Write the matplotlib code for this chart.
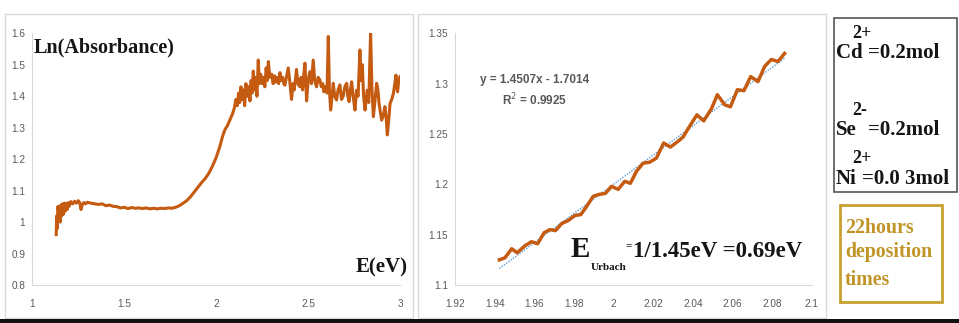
import matplotlib
matplotlib.use('Agg')
import matplotlib.pyplot as plt
from matplotlib.patches import Rectangle
from matplotlib.ticker import FuncFormatter
import numpy as np

# left panel: Ln(Absorbance) vs photon energy
energy_ev = [
	1.130, 1.133, 1.136, 1.140, 1.144, 1.148, 1.152, 1.156, 1.160, 1.165,
	1.170, 1.175, 1.180, 1.185, 1.190, 1.195, 1.200, 1.210, 1.220, 1.230,
	1.240, 1.250, 1.258, 1.265, 1.272, 1.280, 1.290, 1.300, 1.320, 1.340,
	1.360, 1.380, 1.400, 1.420, 1.440, 1.460, 1.480, 1.500, 1.520, 1.540,
	1.560, 1.580, 1.600, 1.620, 1.640, 1.660, 1.680, 1.700, 1.720, 1.740,
	1.760, 1.780, 1.800, 1.820, 1.840, 1.860, 1.880, 1.900, 1.920, 1.940,
	1.960, 1.980, 2.000, 2.010, 2.020, 2.030, 2.040, 2.050, 2.060, 2.070,
	2.080, 2.090, 2.100, 2.108, 2.115, 2.122, 2.128, 2.135, 2.140, 2.148,
	2.155, 2.162, 2.170, 2.177, 2.184, 2.190, 2.196, 2.202, 2.208, 2.215,
	2.222, 2.229, 2.235, 2.242, 2.250, 2.258, 2.265, 2.272, 2.278, 2.284,
	2.292, 2.302, 2.310, 2.318, 2.325, 2.332, 2.340, 2.347, 2.355, 2.362,
	2.368, 2.374, 2.382, 2.392, 2.400, 2.410, 2.418, 2.425, 2.437, 2.445,
	2.455, 2.462, 2.470, 2.477, 2.483, 2.492, 2.500, 2.510, 2.518, 2.528,
	2.536, 2.546, 2.555, 2.564, 2.572, 2.580, 2.586, 2.595, 2.603, 2.610,
	2.616, 2.623, 2.630, 2.637, 2.645, 2.655, 2.663, 2.673, 2.682, 2.691,
	2.700, 2.710, 2.716, 2.723, 2.730, 2.737, 2.745, 2.755, 2.764, 2.772,
	2.782, 2.788, 2.795, 2.802, 2.810, 2.816, 2.822, 2.830, 2.840, 2.847,
	2.855, 2.863, 2.873, 2.880, 2.886, 2.893, 2.900, 2.910, 2.918, 2.925,
	2.931, 2.938, 2.946, 2.955, 2.964, 2.972, 2.978, 2.983, 2.987, 2.993,
	3.000,
]
ln_absorbance = [
	0.960, 1.020, 0.980, 1.050, 1.010, 1.040, 1.000, 1.055, 1.020, 1.058,
	1.025, 1.060, 1.035, 1.058, 1.040, 1.062, 1.050, 1.065, 1.058, 1.066,
	1.060, 1.068, 1.062, 1.040, 1.055, 1.062, 1.058, 1.063, 1.060, 1.058,
	1.056, 1.058, 1.052, 1.054, 1.050, 1.049, 1.045, 1.047, 1.043, 1.046,
	1.044, 1.045, 1.043, 1.045, 1.042, 1.044, 1.042, 1.044, 1.043, 1.045,
	1.044, 1.047, 1.052, 1.060, 1.068, 1.080, 1.095, 1.110, 1.125, 1.138,
	1.155, 1.178, 1.205, 1.222, 1.240, 1.262, 1.282, 1.296, 1.305, 1.318,
	1.332, 1.345, 1.365, 1.390, 1.370, 1.410, 1.380, 1.430, 1.390, 1.420,
	1.370, 1.440, 1.400, 1.430, 1.385, 1.450, 1.410, 1.480, 1.420, 1.460,
	1.400, 1.515, 1.440, 1.470, 1.440, 1.460, 1.430, 1.490, 1.450, 1.510,
	1.460, 1.470, 1.440, 1.465, 1.445, 1.460, 1.440, 1.475, 1.450, 1.460,
	1.440, 1.435, 1.460, 1.490, 1.450, 1.390, 1.440, 1.420, 1.485, 1.440,
	1.430, 1.460, 1.420, 1.470, 1.505, 1.385, 1.450, 1.478, 1.440, 1.515,
	1.450, 1.430, 1.460, 1.452, 1.430, 1.440, 1.414, 1.430, 1.410, 1.590,
	1.420, 1.356, 1.400, 1.441, 1.400, 1.388, 1.420, 1.436, 1.390, 1.400,
	1.430, 1.441, 1.400, 1.383, 1.420, 1.446, 1.400, 1.356, 1.419, 1.400,
	1.547, 1.450, 1.500, 1.400, 1.356, 1.390, 1.419, 1.380, 1.600, 1.430,
	1.335, 1.380, 1.441, 1.420, 1.377, 1.350, 1.324, 1.340, 1.367, 1.330,
	1.277, 1.320, 1.377, 1.390, 1.409, 1.440, 1.467, 1.430, 1.414, 1.450,
	1.462,
]

# right panel: Urbach tail region
urbach_ev = [
	1.9424, 1.9452, 1.9486, 1.9514, 1.9553, 1.9586, 1.9617, 1.9650, 1.9679, 1.9707,
	1.9738, 1.9771, 1.9805, 1.9835, 1.9864, 1.9897, 1.9927, 1.9959, 1.9990, 2.0023,
	2.0057, 2.0085, 2.0116, 2.0149, 2.0183, 2.0216, 2.0253, 2.0287, 2.0321, 2.0351,
	2.0388, 2.0421, 2.0455, 2.0494, 2.0524, 2.0561, 2.0590, 2.0625, 2.0658, 2.0692,
	2.0729, 2.0762, 2.0796, 2.0830, 2.0863,
]
urbach_ln = [
	1.125, 1.127, 1.136, 1.132, 1.139, 1.143, 1.141, 1.152, 1.155, 1.154,
	1.161, 1.164, 1.169, 1.170, 1.178, 1.188, 1.190, 1.191, 1.198, 1.195,
	1.203, 1.201, 1.213, 1.221, 1.222, 1.226, 1.241, 1.237, 1.242, 1.247,
	1.259, 1.269, 1.263, 1.275, 1.289, 1.279, 1.277, 1.294, 1.293, 1.307,
	1.302, 1.317, 1.324, 1.322, 1.330,
]
fit_slope = 1.4507
fit_intercept = -1.7014
fit_r2 = 0.9925

left_xticks = [1, 1.5, 2, 2.5, 3]
left_yticks = [0.8, 0.9, 1, 1.1, 1.2, 1.3, 1.4, 1.5, 1.6]
right_xticks = [1.92, 1.94, 1.96, 1.98, 2, 2.02, 2.04, 2.06, 2.08, 2.1]
right_yticks = [1.1, 1.15, 1.2, 1.25, 1.3, 1.35]

# (ion, charge, amount) for the composition box
ions = ['Cd', 'Se', 'Ni']
charges = ['2+', '2-', '2+']
amounts = ['=0.2mol', '=0.2mol', '=0.0 3mol']
deposition_lines = ['22hours', 'deposition', 'times']

LINE = '#C55A11'
TICK = '#595959'
DARK = '#151515'
GOLD = '#C09526'
SERIF = 'Liberation Serif'
W, H = 959, 323


def px_box(x0, y0, x1, y1):
	# figure fraction rectangle from pixel coords (origin top left)
	return [x0 / W, 1 - y1 / H, (x1 - x0) / W, (y1 - y0) / H]


def px_text(x, y, s, **kw):
	kw.setdefault('family', SERIF)
	kw.setdefault('weight', 'bold')
	kw.setdefault('ha', 'left')
	kw.setdefault('va', 'baseline')
	return fig.text(x / W, 1 - y / H, s, **kw)


def style_axes(ax, xticks, yticks):
	for side in ['top', 'right']:
		ax.spines[side].set_visible(False)
	for side in ['left', 'bottom']:
		ax.spines[side].set_color('#d9d9d9')
		ax.spines[side].set_linewidth(0.8)
	ax.set_xticks(xticks)
	ax.set_yticks(yticks)
	ax.set_xlim(xticks[0], xticks[-1])
	ax.set_ylim(yticks[0], yticks[-1])
	fmt = FuncFormatter(lambda v, p: '%g' % round(v, 3))
	ax.xaxis.set_major_formatter(fmt)
	ax.yaxis.set_major_formatter(fmt)
	ax.tick_params(length=0, labelsize=7.2, labelcolor=TICK, pad=10)
	ax.tick_params(axis='y', pad=5)
	for lab in ax.get_xticklabels() + ax.get_yticklabels():
		lab.set_family('Liberation Sans')


fig = plt.figure(figsize=(W / 100, H / 100), dpi=100)
fig.patch.set_facecolor('white')

# panel frames
for box in [(5, 14, 413, 318), (418, 14, 826, 318)]:
	x, y, w, h = px_box(*box)
	fig.patches.append(Rectangle((x, y), w, h, transform=fig.transFigure,
		fill=False, edgecolor='#d9d9d9', linewidth=1.0))
fig.patches.append(Rectangle((0, 0), 1, 4 / H, transform=fig.transFigure,
	facecolor='#111111', edgecolor='none'))

# left chart
ax1 = fig.add_axes(px_box(32.3, 33.3, 400, 285))
ax1.plot(energy_ev, ln_absorbance, color=LINE, linewidth=2.2)
style_axes(ax1, left_xticks, left_yticks)
ax1.text(0.005, 0.985, 'Ln(Absorbance)', transform=ax1.transAxes, ha='left', va='top',
	family=SERIF, weight='bold', fontsize=14.5, color=DARK)
ax1.text(1.02, 0.0715, 'E(eV)', transform=ax1.transAxes, ha='right', va='center',
	family=SERIF, weight='bold', fontsize=15, color=DARK)

# right chart
ax2 = fig.add_axes(px_box(455, 33.3, 811.7, 285))
ax2.plot(urbach_ev, urbach_ln, color=LINE, linewidth=2.5, zorder=3)
fit_x = np.array([urbach_ev[0], urbach_ev[-1]])
ax2.plot(fit_x, fit_slope * fit_x + fit_intercept, color='#5B9BD5',
	linewidth=1.0, linestyle=(0, (1, 1)), zorder=2)
style_axes(ax2, right_xticks, right_yticks)
ax2.text(0.224, 0.814, 'y = %.4fx - %.4f' % (fit_slope, -fit_intercept), transform=ax2.transAxes,
	ha='center', va='center', family='Liberation Sans', weight='bold', fontsize=8.5, color=TICK)
ax2.text(0.224, 0.735, 'R$^2$ = %.4f' % fit_r2, transform=ax2.transAxes,
	ha='center', va='center', family='Liberation Sans', weight='bold', fontsize=8.5, color=TICK)

# Urbach energy annotation
px_text(571, 257, 'E', fontsize=21, color=DARK)
px_text(591, 270, 'Urbach', fontsize=8, color=DARK)
px_text(629, 246, '=', fontsize=8, color=DARK, ha='center', va='center')
px_text(633, 257, '1/1.45eV =0.69eV', fontsize=16.5, color=DARK)

# composition box
x, y, w, h = px_box(834, 18, 957, 192)
fig.patches.append(Rectangle((x, y), w, h, transform=fig.transFigure,
	fill=False, edgecolor='#555555', linewidth=1.2))
ion_base = [58, 135, 184]
charge_base = [38, 115, 163]
amount_x = [868, 868, 862]
for i in range(len(ions)):
	px_text(836, ion_base[i], ions[i], fontsize=15, color=DARK)
	px_text(852, charge_base[i], charges[i], fontsize=13, color=DARK)
	px_text(amount_x[i], ion_base[i], amounts[i], fontsize=15, color=DARK)

# deposition time box
x, y, w, h = px_box(840, 205, 942, 302)
fig.patches.append(Rectangle((x, y), w, h, transform=fig.transFigure,
	fill=False, edgecolor='#C9A030', linewidth=2.0))
for line, base in zip(deposition_lines, [233, 257, 285]):
	px_text(845, base, line, fontsize=14.3, color=GOLD)

fig.savefig('out.png', dpi=100)
